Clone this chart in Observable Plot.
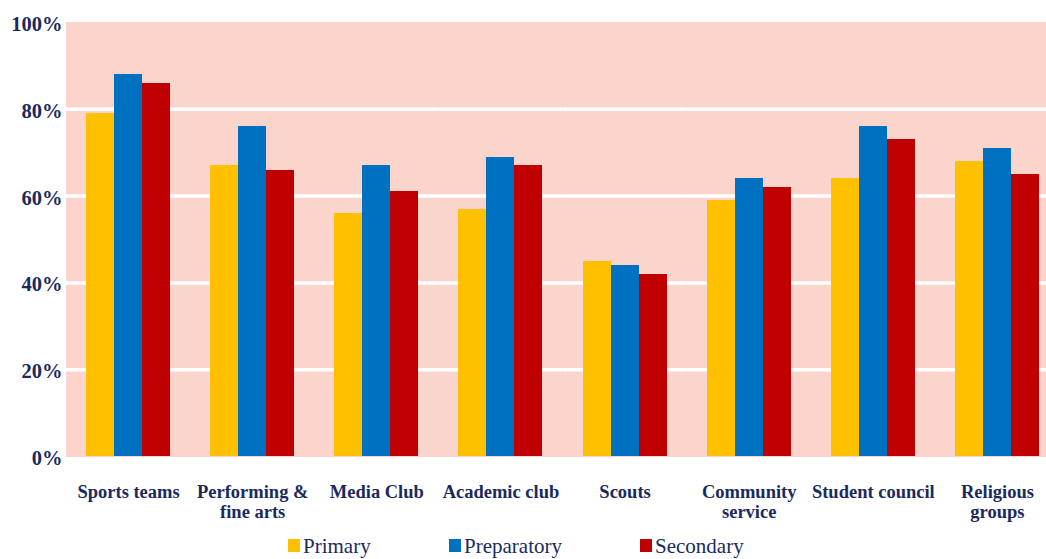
<!DOCTYPE html>
<html><head><meta charset="utf-8">
<script src="https://cdn.jsdelivr.net/npm/d3@7"></script>
<script src="https://cdn.jsdelivr.net/npm/@observablehq/plot@0.6"></script>
<style>
html,body{margin:0;padding:0;background:#fff;overflow:hidden}
#wrap{position:relative;width:1046px;height:559px;overflow:hidden}
#chart svg{display:block;max-width:none !important}
.legend{position:absolute;left:0;top:530px;width:1046px;height:29px;font-family:"Liberation Serif",serif;font-size:21px;color:#1b2a5e}
.sw{position:absolute;top:9px;width:12px;height:13px}
.lt{position:absolute;top:6px;line-height:21px;white-space:nowrap}
</style></head><body>
<div id="wrap"><div id="chart"></div><div class="legend" id="legend"></div></div>
<script>
const categories = ["Sports teams","Performing & fine arts","Media Club","Academic club","Scouts","Community service","Student council","Religious groups"];
const categoryLabels = ["Sports teams","Performing &\nfine arts","Media Club","Academic club","Scouts","Community\nservice","Student council","Religious\ngroups"];
const seriesNames = ["Primary","Preparatory","Secondary"];
const seriesColors = ["#FFC000","#0070C0","#C00000"];
const primary = [79,67,56,57,45,59,64,68];
const preparatory = [88,76,67,69,44,64,76,71];
const secondary = [86,66,61,67,42,62,73,65];
const yTicks = [0,20,40,60,80,100];
const gridValues = [20,40,60,80];

const seriesValues = [primary, preparatory, secondary];
const data = categories.flatMap((c,i)=>seriesNames.map((s,j)=>({category:c, series:s, value:seriesValues[j][i]})));
const labelMap = new Map(categories.map((c,i)=>[c, categoryLabels[i]]));
const navy = "#1b2a5e";
const bg = "#FBD5CC";

const plot = Plot.plot({
  width:1059, height:530,
  marginTop:22, marginBottom:74, marginLeft:66, marginRight:0,
  style:{fontFamily:'"Liberation Serif", serif', color:navy, background:"transparent", maxWidth:"none"},
  fx:{domain:categories, padding:0, round:false, label:null},
  x:{domain:seriesNames, paddingInner:0, paddingOuter:0.7168, round:false, axis:null},
  y:{domain:[0,100], axis:null},
  color:{domain:seriesNames, range:seriesColors},
  marks:[
    Plot.frame({fill:bg, stroke:bg, strokeWidth:1, shapeRendering:"crispEdges"}),
    Plot.ruleY(gridValues, {stroke:"white", strokeWidth:3.5}),
    Plot.barY(data, {fx:"category", x:"series", y:"value", fill:"series", inset:0, shapeRendering:"crispEdges"}),
    Plot.axisY({ticks:yTicks, tickFormat:d=>d+"%", tickSize:0, tickPadding:4, fontSize:20.5, fontWeight:"bold", label:null, fill:navy, dy:2}),
    Plot.axisFx({anchor:"bottom", tickSize:0, tickPadding:27, tickFormat:d=>labelMap.get(d), fontSize:18.5, fontWeight:"bold", lineHeight:1.1, label:null, fill:navy})
  ]
});
document.getElementById("chart").appendChild(plot);

const legendX = [288, 449, 640];
const legend = document.getElementById("legend");
seriesNames.forEach((s,i)=>{
  const sw = document.createElement("div");
  sw.className = "sw"; sw.style.left = legendX[i]+"px"; sw.style.background = seriesColors[i];
  const t = document.createElement("div");
  t.className = "lt"; t.style.left = (legendX[i]+15)+"px"; t.textContent = s;
  legend.appendChild(sw); legend.appendChild(t);
});
</script>
</body></html>
